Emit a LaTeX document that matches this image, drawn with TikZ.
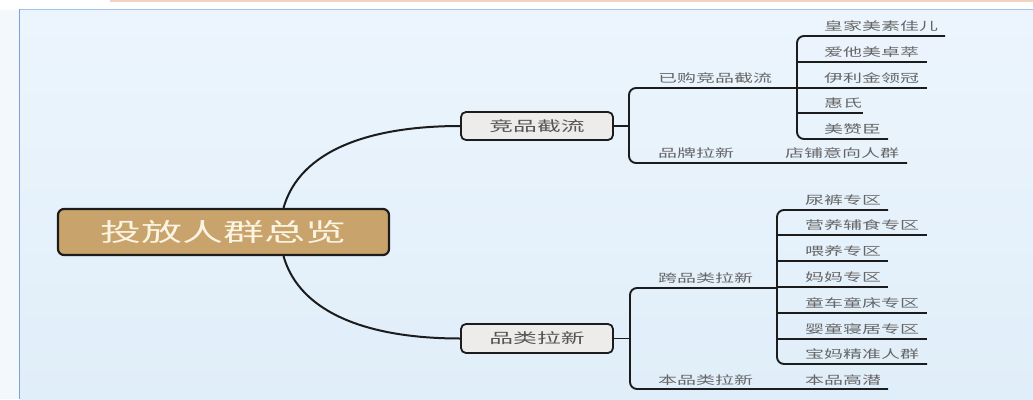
\documentclass[tikz,border=0pt]{standalone}
\usepackage{fontspec}
\usepackage{graphicx}
\newfontfamily\cjk{Noto Sans CJK SC}
\usetikzlibrary{calc}
\definecolor{bgtop}{HTML}{ECF5FD}
\definecolor{bgbot}{HTML}{E0EEF9}
\definecolor{leftc}{HTML}{F3F8FC}
\definecolor{peach}{HTML}{F2D3BF}
\definecolor{frameL}{HTML}{7E9FD9}
\definecolor{frameT}{HTML}{A3C2E8}
\definecolor{linec}{HTML}{1C1C1C}
\definecolor{txtgray}{HTML}{666666}
\definecolor{boxtxt}{HTML}{555555}
\definecolor{boxfill}{HTML}{EDECEA}
\definecolor{rootfill}{HTML}{C9A36C}
\definecolor{roottxt}{HTML}{FBF4E2}
\newcommand\widetxt[2]{\scalebox{#1}[1]{#2}}
\begin{document}
\begin{tikzpicture}[x=1pt,y=-1pt,
  leaf/.style={anchor=west, inner sep=0pt, text=txtgray, font=\cjk\fontsize{11.5}{12}\selectfont},
  conn/.style={line width=1.9pt, draw=linec},
  bracket/.style={conn, rounded corners=7pt},
  curve/.style={line width=2pt, draw=linec},
  midbox/.style={draw=linec, line width=1.8pt, fill=boxfill, rounded corners=5pt, minimum width=152pt, minimum height=28pt, inner sep=0pt, text=boxtxt, font=\cjk\fontsize{14}{15}\selectfont},
  rootbox/.style={draw=linec, line width=2.2pt, fill=rootfill, rounded corners=6pt, minimum width=331pt, minimum height=46pt, inner sep=0pt, text=roottxt, font=\cjk\fontsize{25}{26}\selectfont}]
\useasboundingbox (0,0) rectangle (1033,399);
% background window
\fill[white] (0,0) rectangle (1033,399);
\fill[leftc] (0,10) rectangle (19,399);
\fill[peach] (110,0) rectangle (1033,1.6);
\shade[top color=bgtop, bottom color=bgbot] (20,10) rectangle (1033,399);
\draw[frameT, line width=1.4pt] (19,9.5) -- (1033,9.5);
\draw[frameL, line width=1.6pt] (19.5,9) -- (19.5,399);

% main nodes
\node[rootbox] (root) at (223.5,232) {\widetxt{1.64}{投放人群总览}};
\node[midbox] (c1) at (537,126) {\widetxt{1.7}{竞品截流}};
\node[midbox, minimum height=29pt] (c2) at (537,338.5) {\widetxt{1.7}{品类拉新}};

% curves from root
\coordinate (rt) at ($(root.north)+(60,0)$);
\coordinate (rb) at ($(root.south)+(60,0)$);
\draw[curve] (rt) .. controls (300,150) and (370,126) .. (c1.west);
\draw[curve] (rb) .. controls (300,314) and (370,338.5) .. (c2.west);

% ---------- upper group ----------
\coordinate (A) at (629,126);
\coordinate (Atop) at (629,88);
\coordinate (J1) at (797,88);
\coordinate (B2end) at (907,163);
\draw[conn] (c1.east) -- (A);
\draw[bracket] (J1) -- (Atop) -- (629,163) -- (B2end);
\coordinate (L1) at (945,36);
\coordinate (L5) at (888,139);
\draw[bracket] (L1) -- (797,36) -- (797,139) -- (L5);
\coordinate (L2) at (927,62);
\coordinate (L3) at (927,88);
\coordinate (L4) at (863,113);
\draw[conn] (797,62) -- (L2);
\draw[conn] (J1) -- (L3);
\draw[conn] (797,113) -- (L4);

\node[leaf] (t1) at (658,78) {\widetxt{1.65}{已购竞品截流}};
\node[leaf] (t2) at (658,153) {\widetxt{1.65}{品牌拉新}};
\node[leaf] (t3) at (785,153) {\widetxt{1.65}{店铺意向人群}};
\node[leaf] (u1) at (824,26) {\widetxt{1.65}{皇家美素佳儿}};
\node[leaf] (u2) at (824,52) {\widetxt{1.65}{爱他美卓萃}};
\node[leaf] (u3) at (824,78) {\widetxt{1.65}{伊利金领冠}};
\node[leaf] (u4) at (824,103) {\widetxt{1.65}{惠氏}};
\node[leaf] (u5) at (824,129) {\widetxt{1.65}{美赞臣}};

% ---------- lower group ----------
\coordinate (C) at (630,338.5);
\coordinate (Ctop) at (630,288);
\coordinate (J2) at (777,288);
\coordinate (D2end) at (888,389);
\draw[conn] (c2.east) -- (C);
\draw[bracket] (J2) -- (Ctop) -- (630,389) -- (D2end);
\coordinate (M1) at (888,210);
\coordinate (M7) at (927,364);
\draw[bracket] (M1) -- (777,210) -- (777,364) -- (M7);
\coordinate (M2) at (927,235);
\coordinate (M3) at (888,261);
\coordinate (M4) at (888,287);
\coordinate (M5) at (927,313);
\coordinate (M6) at (927,339);
\draw[conn] (777,235) -- (M2);
\draw[conn] (777,261) -- (M3);
\draw[conn] (777,287) -- (M4);
\draw[conn] (777,313) -- (M5);
\draw[conn] (777,339) -- (M6);

\node[leaf] (s1) at (658,278) {\widetxt{1.65}{跨品类拉新}};
\node[leaf] (s2) at (658,380) {\widetxt{1.65}{本品类拉新}};
\node[leaf] (s3) at (805,380) {\widetxt{1.65}{本品高潜}};
\node[leaf] (v1) at (805,200) {\widetxt{1.65}{尿裤专区}};
\node[leaf] (v2) at (805,225) {\widetxt{1.65}{营养辅食专区}};
\node[leaf] (v3) at (805,251) {\widetxt{1.65}{喂养专区}};
\node[leaf] (v4) at (805,277) {\widetxt{1.65}{妈妈专区}};
\node[leaf] (v5) at (805,303) {\widetxt{1.65}{童车童床专区}};
\node[leaf] (v6) at (805,329) {\widetxt{1.65}{婴童寝居专区}};
\node[leaf] (v7) at (805,354) {\widetxt{1.65}{宝妈精准人群}};
\end{tikzpicture}
\end{document}
